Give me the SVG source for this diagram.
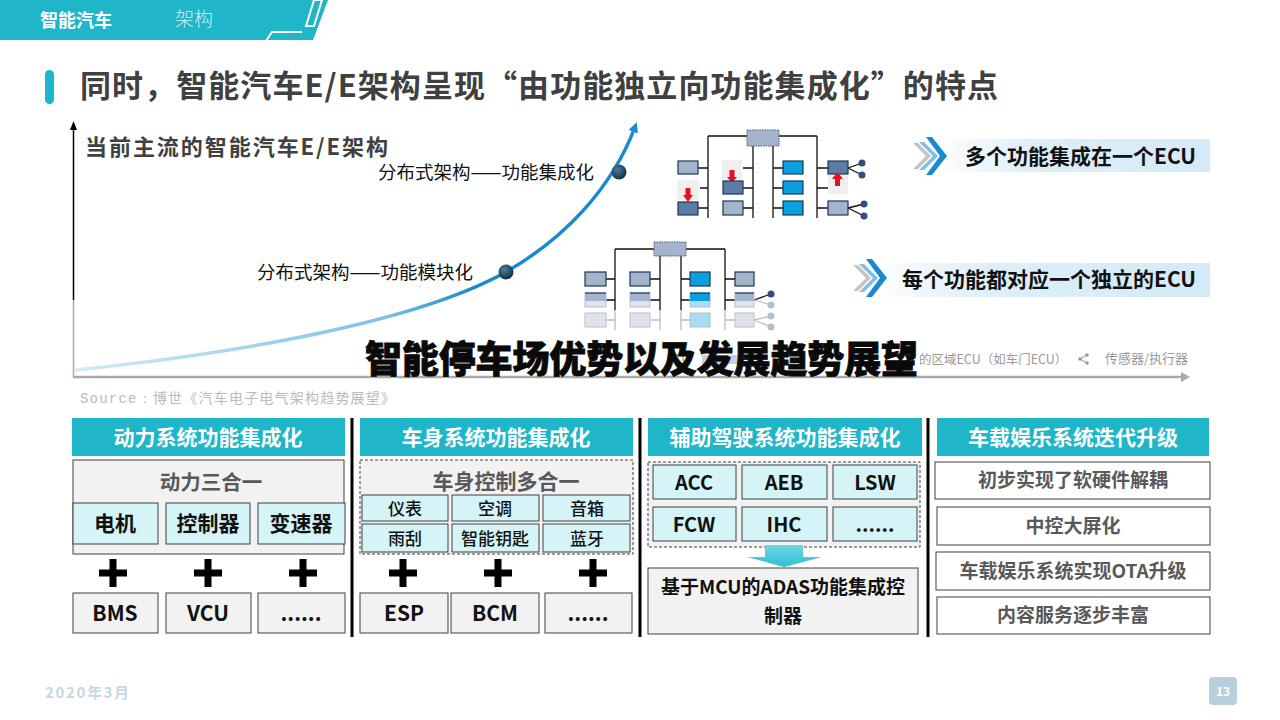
<svg xmlns="http://www.w3.org/2000/svg" width="1280" height="720" viewBox="0 0 1280 720">
<style>
text{font-family:"Noto Sans CJK SC","Liberation Sans",sans-serif;}
.hd{fill:#1eb6c8;}
.hdt{fill:#fff;font-weight:700;font-size:21px;text-anchor:middle;}
.gbox{fill:#f2f2f2;stroke:#404040;stroke-width:1;}
.dbox{fill:#f2f2f2;stroke:#404040;stroke-width:1;stroke-dasharray:3,2;}
.cbox{fill:#d4f4f7;stroke:#404040;stroke-width:1;}
.wbox{fill:#fff;stroke:#404040;stroke-width:1;}
.bt{fill:#111;font-weight:700;font-size:21px;text-anchor:middle;}
.bt20{fill:#111;font-weight:700;font-size:20px;text-anchor:middle;}
.bt18{fill:#111;font-weight:700;font-size:19px;text-anchor:middle;}
.mt{fill:#111;font-weight:500;font-size:17px;text-anchor:middle;}
.gt{fill:#595959;font-weight:700;font-size:20.5px;text-anchor:middle;}
.et{fill:#595959;font-weight:700;font-size:19px;text-anchor:middle;}
.div{stroke:#000;stroke-width:3;}
.plus{fill:#000;}
.ln{stroke:#111;stroke-width:1.3;fill:none;}
.lnf{stroke:#b8bec8;stroke-width:1.3;fill:none;}
.b1{fill:#a3b4cc;stroke:#1f3656;stroke-width:1.2;}
.b2{fill:#5c7ca8;stroke:#1f3656;stroke-width:1.2;}
.b3{fill:#0aa0e0;stroke:#1f3656;stroke-width:1.2;}
.bf{fill:#dfe4ec;stroke:#b8c0cc;stroke-width:1;}
.bfc{fill:#a8dcf4;stroke:#b8c0cc;stroke-width:1;}
.tb{fill:#a3b4cc;stroke:#4a5a70;stroke-width:1;stroke-dasharray:1.5,1;}
.fade{fill:#efefef;}
.red{fill:#e8101c;}
.dot{fill:#34507a;}
.dotf{fill:#b4bfd0;}
.lab{fill:#111;font-size:18.5px;}
.leg{fill:#999;font-size:12.5px;}
.legt{fill:#111;font-weight:700;font-size:21px;}
</style>
<defs>
<linearGradient id="cg" gradientUnits="userSpaceOnUse" x1="75" y1="0" x2="640" y2="0">
<stop offset="0" stop-color="#d6ebf6"/>
<stop offset="0.55" stop-color="#7fc0e6"/>
<stop offset="0.7" stop-color="#1a8ad0"/>
<stop offset="1" stop-color="#1a8ad0"/>
</linearGradient>
<radialGradient id="dg" cx="0.4" cy="0.35" r="0.7">
<stop offset="0" stop-color="#4f7c9c"/>
<stop offset="1" stop-color="#0c2a42"/>
</radialGradient>
<linearGradient id="bar" x1="0" y1="0" x2="1" y2="0">
<stop offset="0" stop-color="#d5eaf7" stop-opacity="0"/>
<stop offset="0.35" stop-color="#d5eaf7" stop-opacity="0.8"/>
<stop offset="1" stop-color="#d5eaf7"/>
</linearGradient>
<linearGradient id="ag" x1="0" y1="0" x2="0" y2="1">
<stop offset="0" stop-color="#6fd6e4"/>
<stop offset="1" stop-color="#2ec0d4"/>
</linearGradient>
<marker id="ah" markerWidth="10" markerHeight="10" refX="5" refY="5" orient="auto" markerUnits="userSpaceOnUse">
<path d="M0,0 L10,5 L0,10 z" fill="#1a8ad0"/>
</marker>
</defs>
<rect width="1280" height="720" fill="#fff"/>

<!-- header -->
<g id="header">
<polygon points="0,0 328,0 313,40 0,40" fill="#1eb6c8"/>
<polyline points="266,41 272,32 302,32" fill="none" stroke="#fff" stroke-width="2"/>
<polygon points="306,26 314,0 322,0 314,26" fill="none" stroke="#fff" stroke-width="2"/>
<text x="40" y="27" fill="#fff" font-weight="700" font-size="18">智能汽车</text>
<text x="175" y="26" fill="#fff" fill-opacity="0.8" font-weight="300" font-size="19">架构</text>
</g>

<g id="title">
<rect x="45" y="70" width="9" height="34" rx="4.5" fill="#1eb6c8"/>
<text x="80" y="97" fill="#404040" font-weight="700" font-size="31" textLength="918" lengthAdjust="spacing">同时，智能汽车E/E架构呈现“由功能独立向功能集成化”的特点</text>
</g>

<!-- chart -->
<g id="chart">
<line x1="73.5" y1="128" x2="73.5" y2="300" stroke="#000" stroke-width="1.5"/>
<line x1="73.5" y1="300" x2="73.5" y2="377" stroke="#aaa" stroke-width="1.5"/>
<polygon points="73.5,121 70,130 77,130" fill="#000"/>
<line x1="73" y1="377" x2="1182" y2="377" stroke="#aaa" stroke-width="2.5"/>
<polygon points="1190,377 1181,372 1181,382" fill="#aaa"/>
<text x="85" y="155" fill="#404040" font-weight="700" font-size="22" textLength="303" lengthAdjust="spacing">当前主流的智能汽车E/E架构</text>
<text x="80" y="403" fill="#bbb" font-size="14" textLength="315" lengthAdjust="spacing"><tspan font-family="Liberation Mono,monospace">Source：</tspan>博世《汽车电子电气架构趋势展望》</text>
</g>

<g id="connectors">
<path d="M75,370 C250,352 420,320 506,272 C565,238 612,188 635,127" fill="none" stroke="url(#cg)" stroke-width="3.5" marker-end="url(#ah)"/>
<!-- diagram 1 lines -->
<path class="ln" d="M708,136 H747 M779,136 H817 M708,136 V218 M753,146 V218 M773,146 V218 M817,136 V218"/>
<path class="ln" d="M698,168 H708 M700,188 H708 M698,208 H708 M743,168 H753 M743,188 H753 M743,208 H753 M773,168 H783 M773,188 H783 M773,208 H783 M817,168 H828 M817,188 H828 M817,208 H828"/>
<path class="ln" d="M848,168 L862,163 M848,168 L862,175 M848,208 L864,204 M848,208 L864,216"/>
<!-- diagram 2 lines -->
<path class="ln" d="M615,249 H654 M686,249 H725 M615,249 V310 M660,256 V310 M681,256 V310 M725,249 V310"/>
<path class="lnf" d="M615,310 V330 M660,310 V330 M681,310 V330 M725,310 V330"/>
<path class="ln" d="M606,279 H615 M606,300 H615 M650,279 H660 M650,300 H660 M681,279 H690 M681,300 H690 M725,279 H735 M725,300 H735 M754,300 L771,294"/>
<path class="lnf" d="M606,320 H615 M650,320 H660 M681,320 H690 M725,320 H735 M754,300 L771,305 M754,320 L771,316 M754,320 L771,327"/>
</g>

<g id="dot-mod"><circle cx="506" cy="272" r="7.5" fill="url(#dg)"/></g>
<g id="dot-int"><circle cx="619" cy="172" r="7.5" fill="url(#dg)"/></g>
<g id="label-int"><text class="lab" x="378" y="179">分布式架构——功能集成化</text></g>
<g id="label-mod"><text class="lab" x="257" y="279">分布式架构——功能模块化</text></g>

<!-- diagram 1: integration -->
<g id="diagram-int">
<rect class="tb" x="747" y="130" width="32" height="16"/>
<rect class="b1" x="678" y="161" width="20" height="13"/>
<rect class="fade" x="677" y="180" width="22" height="20"/>
<polygon class="red" points="685.5,188 690.5,188 690.5,195 693,195 688,202 683,195 685.5,195"/>
<rect class="b2" x="678" y="202" width="20" height="13"/>
<rect class="fade" x="722" y="160" width="20" height="20"/>
<polygon class="red" points="729.5,170 734.5,170 734.5,177 737,177 732,183 727,177 729.5,177"/>
<rect class="b2" x="723" y="181" width="20" height="13"/>
<rect class="b1" x="723" y="201" width="20" height="14"/>
<rect class="b3" x="783" y="161" width="20" height="13"/>
<rect class="b3" x="783" y="181" width="20" height="13"/>
<rect class="b3" x="783" y="201" width="20" height="14"/>
<rect class="fade" x="828" y="174" width="20" height="20"/>
<rect class="b2" x="828" y="161" width="20" height="13"/>
<polygon class="red" points="837.5,172 843,179 840,179 840,186 835,186 835,179 832,179"/>
<rect class="b1" x="828" y="201" width="20" height="14"/>
<circle class="dot" cx="862" cy="163" r="3.5"/>
<circle class="dot" cx="862" cy="175" r="3.5"/>
<circle class="dot" cx="864" cy="204" r="3.5"/>
<circle class="dot" cx="864" cy="216" r="3.5"/>
</g>

<!-- diagram 2: modular -->
<g id="diagram-mod">
<rect class="tb" x="654" y="242" width="32" height="14"/>
<rect class="b1" x="585" y="272" width="21" height="14"/>
<rect class="bf" x="585" y="293" width="21" height="14"/>
<rect x="585" y="293" width="21" height="8" fill="#a3b4cc"/>
<line x1="585" y1="293" x2="606" y2="293" stroke="#1f3656" stroke-width="1.2"/>
<rect class="bf" x="585" y="313" width="21" height="14"/>
<rect class="b1" x="630" y="272" width="20" height="14"/>
<rect class="bf" x="630" y="293" width="20" height="14"/>
<rect x="630" y="293" width="20" height="8" fill="#a3b4cc"/>
<line x1="630" y1="293" x2="650" y2="293" stroke="#1f3656" stroke-width="1.2"/>
<rect class="bf" x="630" y="313" width="20" height="14"/>
<rect class="b3" x="690" y="272" width="20" height="14"/>
<rect class="bfc" x="690" y="293" width="20" height="14"/>
<rect x="690" y="293" width="20" height="8" fill="#0aa0e0"/>
<line x1="690" y1="293" x2="710" y2="293" stroke="#1f3656" stroke-width="1.2"/>
<rect class="bfc" x="690" y="313" width="20" height="14"/>
<rect class="b1" x="735" y="272" width="19" height="14"/>
<rect class="bf" x="735" y="293" width="19" height="14"/>
<rect x="735" y="293" width="19" height="8" fill="#a3b4cc"/>
<line x1="735" y1="293" x2="754" y2="293" stroke="#1f3656" stroke-width="1.2"/>
<rect class="bf" x="735" y="313" width="19" height="14"/>
<circle class="dot" cx="771" cy="294" r="3.5"/>
<circle class="dotf" cx="771" cy="305" r="3.5"/>
<circle class="dotf" cx="771" cy="316" r="3.5"/>
<circle class="dotf" cx="771" cy="327" r="3.5"/>
</g>

<!-- legend strip -->
<g id="legend">
<text class="leg" x="666" y="364">ECU</text>
<rect x="702" y="355" width="36" height="9" fill="#c5d0e0"/>
<text class="leg" x="919" y="364">的区域ECU（如车门ECU）</text>
<circle cx="1080" cy="359" r="1.8" fill="#999"/>
<circle cx="1087" cy="355" r="1.8" fill="#999"/>
<circle cx="1087" cy="363" r="1.8" fill="#999"/>
<path d="M1080,359 L1087,355 M1080,359 L1087,363" stroke="#999" stroke-width="1" fill="none"/>
<text class="leg" x="1105" y="363" style="font-size:13px">传感器/执行器</text>
</g>

<!-- right callouts -->
<g id="callout-int">
<rect x="935" y="139" width="275" height="33" fill="url(#bar)"/>
<polygon points="913,143 918,143 931,156 918,169 913,169 926,156" fill="#c4c4c4"/>
<polygon points="919,142 924,142 938,156 924,170 919,170 933,156" fill="#7cc0e8"/>
<polygon points="926,137 932,137 947,156 932,175 926,175 940,156" fill="#1a8ad0"/>
<text class="legt" x="965" y="164">多个功能集成在一个ECU</text>
</g>
<g id="callout-mod">
<rect x="870" y="263" width="340" height="34" fill="url(#bar)"/>
<polygon points="853,265 858,265 871,278 858,291 853,291 866,278" fill="#c4c4c4"/>
<polygon points="859,264 864,264 878,278 864,292 859,292 873,278" fill="#7cc0e8"/>
<polygon points="866,259 872,259 887,278 872,297 866,297 880,278" fill="#1a8ad0"/>
<text class="legt" x="902" y="287">每个功能都对应一个独立的ECU</text>
</g>

<!-- overlay -->
<g id="overlay">
<text x="365" y="373" fill="#0a0a0a" stroke="#0a0a0a" stroke-width="0.8" font-weight="900" font-size="37" textLength="553" lengthAdjust="spacing">智能停车场优势以及发展趋势展望</text>
</g>

<!-- dividers -->
<g id="dividers">
<line class="div" x1="352" y1="418" x2="352" y2="637"/>
<line class="div" x1="640" y1="418" x2="640" y2="637"/>
<line class="div" x1="928" y1="418" x2="928" y2="637"/>
</g>

<!-- column 1 -->
<g id="col-power">
<rect class="hd" x="72" y="418" width="273" height="38"/>
<text class="hdt" x="208" y="445">动力系统功能集成化</text>
<rect class="gbox" x="73" y="460" width="271" height="94"/>
<text class="gt" x="211" y="490">动力三合一</text>
<rect class="cbox" x="73" y="503" width="85" height="41"/>
<rect class="cbox" x="166" y="503" width="84" height="41"/>
<rect class="cbox" x="258" y="503" width="87" height="41"/>
<text class="bt" x="115" y="531">电机</text>
<text class="bt" x="208" y="531">控制器</text>
<text class="bt" x="301" y="531">变速器</text>
<rect class="plus" x="99" y="569.5" width="28" height="7"/><rect class="plus" x="109.5" y="559" width="7" height="28"/>
<rect class="plus" x="194" y="569.5" width="28" height="7"/><rect class="plus" x="204.5" y="559" width="7" height="28"/>
<rect class="plus" x="289" y="569.5" width="28" height="7"/><rect class="plus" x="299.5" y="559" width="7" height="28"/>
<rect class="gbox" x="73" y="593" width="85" height="40"/>
<rect class="gbox" x="166" y="593" width="85" height="40"/>
<rect class="gbox" x="258" y="593" width="87" height="40"/>
<text class="bt" x="115" y="621">BMS</text>
<text class="bt" x="208" y="621">VCU</text>
<text class="bt" x="301" y="621">......</text>
</g>

<!-- column 2 -->
<g id="col-body">
<rect class="hd" x="360" y="418" width="273" height="38"/>
<text class="hdt" x="496" y="445">车身系统功能集成化</text>
<rect class="dbox" x="360" y="460" width="273" height="94"/>
<text class="gt" x="506" y="489" style="font-size:21px">车身控制多合一</text>
<rect class="cbox" x="362" y="495" width="86" height="26"/>
<rect class="cbox" x="452" y="495" width="87" height="26"/>
<rect class="cbox" x="543" y="495" width="87" height="26"/>
<rect class="cbox" x="362" y="524" width="86" height="28"/>
<rect class="cbox" x="452" y="524" width="87" height="28"/>
<rect class="cbox" x="543" y="524" width="87" height="28"/>
<text class="mt" x="405" y="515">仪表</text>
<text class="mt" x="495" y="515">空调</text>
<text class="mt" x="587" y="515">音箱</text>
<text class="mt" x="405" y="545">雨刮</text>
<text class="mt" x="495" y="545">智能钥匙</text>
<text class="mt" x="587" y="545">蓝牙</text>
<rect class="plus" x="389" y="569.5" width="28" height="7"/><rect class="plus" x="399.5" y="559" width="7" height="28"/>
<rect class="plus" x="484" y="569.5" width="28" height="7"/><rect class="plus" x="494.5" y="559" width="7" height="28"/>
<rect class="plus" x="579" y="569.5" width="28" height="7"/><rect class="plus" x="589.5" y="559" width="7" height="28"/>
<rect class="gbox" x="360" y="593" width="88" height="40"/>
<rect class="gbox" x="451" y="593" width="88" height="40"/>
<rect class="gbox" x="545" y="593" width="87" height="40"/>
<text class="bt" x="404" y="621">ESP</text>
<text class="bt" x="495" y="621">BCM</text>
<text class="bt" x="588" y="621">......</text>
</g>

<!-- column 3 -->
<g id="col-adas">
<rect class="hd" x="648" y="418" width="274" height="38"/>
<text class="hdt" x="785" y="445">辅助驾驶系统功能集成化</text>
<rect class="dbox" x="648" y="462" width="272" height="85"/>
<rect class="cbox" x="653" y="465" width="83" height="34"/>
<rect class="cbox" x="742" y="465" width="85" height="34"/>
<rect class="cbox" x="833" y="465" width="84" height="34"/>
<rect class="cbox" x="653" y="507" width="83" height="34"/>
<rect class="cbox" x="742" y="507" width="85" height="34"/>
<rect class="cbox" x="833" y="507" width="84" height="34"/>
<text class="bt20" x="694" y="490">ACC</text>
<text class="bt20" x="784" y="490">AEB</text>
<text class="bt20" x="875" y="490">LSW</text>
<text class="bt20" x="694" y="532">FCW</text>
<text class="bt20" x="784" y="532">IHC</text>
<text class="bt20" x="875" y="532">......</text>
<polygon points="765,545 803,545 803,557 822,557 784,567 747,557 765,557" fill="url(#ag)"/>
<rect class="gbox" x="648" y="568" width="270" height="66"/>
<text class="bt18" x="783" y="594">基于MCU的ADAS功能集成控</text>
<text class="bt18" x="783" y="623">制器</text>
</g>

<!-- column 4 -->
<g id="col-info">
<rect class="hd" x="937" y="418" width="272" height="38"/>
<text class="hdt" x="1073" y="445">车载娱乐系统迭代升级</text>
<rect class="wbox" x="935" y="462" width="275" height="37"/>
<rect class="wbox" x="937" y="507" width="273" height="38"/>
<rect class="wbox" x="936" y="552" width="274" height="38"/>
<rect class="wbox" x="937" y="597" width="273" height="37"/>
<text class="et" x="1073" y="487">初步实现了软硬件解耦</text>
<text class="et" x="1073" y="533">中控大屏化</text>
<text class="et" x="1073" y="578">车载娱乐系统实现OTA升级</text>
<text class="et" x="1073" y="622">内容服务逐步丰富</text>
</g>

<!-- footer -->
<g id="footer">
<text x="45" y="698" fill="#c8d8e2" font-weight="700" font-size="15" textLength="84" lengthAdjust="spacing">2020年3月</text>
<rect x="1209" y="677" width="28" height="28" rx="4" fill="#b8cfdc"/>
<text x="1223" y="696" fill="#fff" font-weight="700" font-size="12" text-anchor="middle">13</text>
</g>
</svg>
